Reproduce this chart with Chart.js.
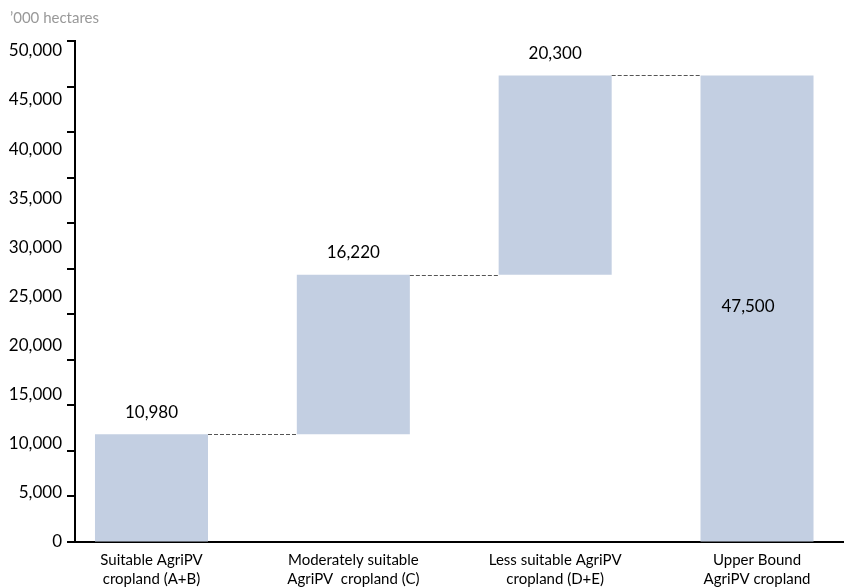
<!DOCTYPE html>
<html>
<head>
<meta charset="utf-8">
<script src="https://cdn.jsdelivr.net/npm/chart.js@4.4.0/dist/chart.umd.min.js"></script>
<style>
    html, body { margin: 0; padding: 0; background: #fff; }
    #wrap { position: relative; width: 844px; height: 588px; }
    #unit {
        position: absolute; left: 10px; top: 8px;
        font-family: Lato, 'Open Sans', sans-serif; font-size: 15px; color: #999;
    }
</style>
</head>
<body>
<div id="wrap">
    <div id="unit">’000 hectares</div>
    <canvas id="waterfallChart" width="844" height="588"></canvas>
</div>
<script>
// waterfall data, '000 hectares
const categories = [
    ['Suitable AgriPV', 'cropland (A+B)'],
    ['Moderately suitable', 'AgriPV  cropland (C)'],
    ['Less suitable AgriPV', 'cropland (D+E)'],
    ['Upper Bound', 'AgriPV cropland']
];
const increments = [10980, 16220, 20300];
const totalValue = 47500;
const yTicks = [0, 5000, 10000, 15000, 20000, 25000, 30000, 35000, 40000, 45000, 50000];
// the source's tick marks don't sit on its labels: 12 marks, evenly spaced
const tickMarks = [0, 5000, 10000, 15000, 20000, 25000, 30000, 35000, 40000, 45000, 50000, 55000];

const barColor = '#c3cfe2';
const fontFamily = "Lato, 'Open Sans', sans-serif";

// floating bars: each step starts where the previous one ended
const bars = [];
let running = 0;
increments.forEach((v, i) => {
    bars.push({ x: i, y: [running, running + v], label: v });
    running += v;
});
bars.push({ x: increments.length, y: [0, totalValue], label: totalValue, inside: true });

const fmt = v => v.toLocaleString('en-US');

// dashed connectors, value labels and axis tick marks
const waterfallExtras = {
    id: 'waterfallExtras',
    afterDatasetsDraw(chart) {
        const ctx = chart.ctx;
        const meta = chart.getDatasetMeta(0);
        const yScale = chart.scales.y;
        const markScale = chart.scales.yMarks;
        const axisX = chart.chartArea.left;

        ctx.save();
        // tick marks on the left of the y axis
        ctx.strokeStyle = '#000';
        ctx.lineWidth = 2;
        tickMarks.forEach(v => {
            const yPix = Math.round(markScale.getPixelForValue(v));
            ctx.beginPath();
            ctx.moveTo(axisX - 8, yPix);
            ctx.lineTo(axisX, yPix);
            ctx.stroke();
        });

        ctx.strokeStyle = '#555';
        ctx.lineWidth = 1;
        ctx.setLineDash([4, 2]);
        for (let i = 0; i < meta.data.length - 1; i++) {
            const cur = meta.data[i];
            const next = meta.data[i + 1];
            const yPix = Math.round(yScale.getPixelForValue(bars[i].y[1])) + 0.5;
            ctx.beginPath();
            ctx.moveTo(cur.x + cur.width / 2, yPix);
            ctx.lineTo(next.x - next.width / 2, yPix);
            ctx.stroke();
        }
        ctx.setLineDash([]);

        ctx.fillStyle = '#000';
        ctx.font = '17px ' + fontFamily;
        ctx.textAlign = 'center';
        ctx.textBaseline = 'middle';
        meta.data.forEach((el, i) => {
            const b = bars[i];
            const top = yScale.getPixelForValue(b.y[1]);
            const bottom = yScale.getPixelForValue(b.y[0]);
            const yText = b.inside ? (top + bottom) / 2 - 2 : top - 22;
            ctx.fillText(fmt(b.label), el.x - (b.inside ? 9 : 0), yText);
        });
        ctx.restore();
    }
};

const ctx = document.getElementById('waterfallChart').getContext('2d');
new Chart(ctx, {
    type: 'bar',
    data: {
        datasets: [{
            data: bars,
            backgroundColor: barColor,
            borderWidth: 0,
            barPercentage: 0.56,
            categoryPercentage: 1
        }]
    },
    options: {
        responsive: false,
        animation: false,
        layout: { padding: { top: 41, left: 0, right: 0, bottom: 0 } },
        plugins: {
            legend: { display: false },
            tooltip: { enabled: false }
        },
        scales: {
            x: {
                type: 'linear',
                offset: false,
                min: -0.379,
                max: 3.431,
                grid: { display: false, drawTicks: false },
                border: { display: true, color: '#000', width: 2 },
                afterBuildTicks(axis) {
                    axis.ticks = categories.map((c, i) => ({ value: i }));
                },
                afterFit(axis) { axis.height = 46; },
                ticks: {
                    autoSkip: false,
                    maxRotation: 0,
                    padding: 9,
                    color: '#000',
                    font: { family: fontFamily, size: 15, lineHeight: 1.25 },
                    callback: v => categories[v]
                }
            },
            y: {
                min: 0,
                max: 51000,
                afterBuildTicks(axis) {
                    axis.ticks = yTicks.map(v => ({ value: v }));
                },
                afterFit(axis) { axis.width = 75; },
                grid: { drawOnChartArea: false, drawTicks: false },
                border: { display: true, color: '#000', width: 2 },
                ticks: {
                    padding: 13,
                    color: '#000',
                    font: { family: fontFamily, size: 17 },
                    callback: v => fmt(v)
                }
            },
            yMarks: {
                type: 'linear',
                position: 'left',
                display: false,
                min: 0,
                max: 55000
            }
        }
    },
    plugins: [waterfallExtras]
});
</script>
</body>
</html>
